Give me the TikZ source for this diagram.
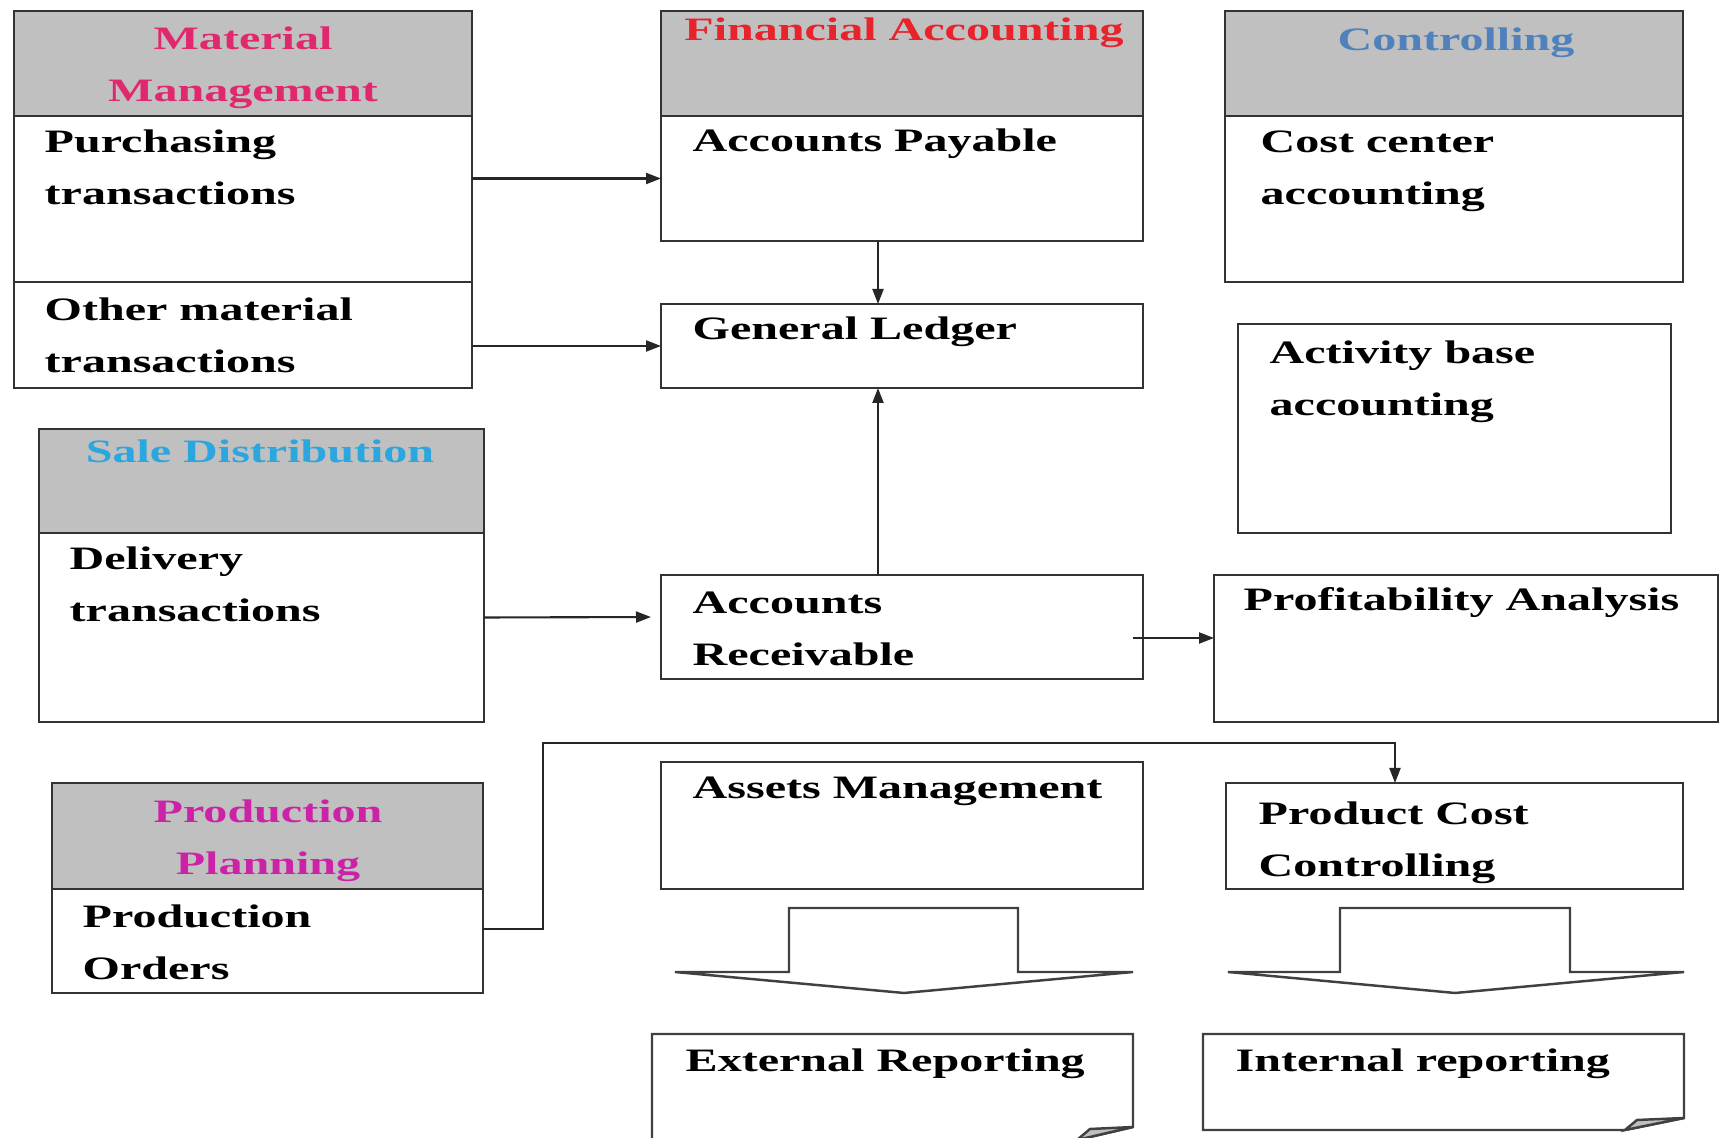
\documentclass[tikz,border=0pt]{standalone}
\usepackage{fontspec}
\setmainfont{Liberation Serif}[FakeStretch=1.47]
\usetikzlibrary{arrows.meta, positioning}

\definecolor{headgray}{HTML}{C0C0C0}
\definecolor{boxline}{HTML}{333333}
\definecolor{mmred}{HTML}{E0286E}
\definecolor{fared}{HTML}{E8232B}
\definecolor{coblue}{HTML}{4F81BD}
\definecolor{sdblue}{HTML}{2BA6DE}
\definecolor{ppmag}{HTML}{CC22A8}

\begin{document}
\begin{tikzpicture}[
    box/.style={draw=boxline, line width=0.8pt, anchor=north west, inner sep=0pt, outer sep=0pt},
    headbox/.style={box, fill=headgray},
    boxtext/.style={anchor=base west, align=left, inner sep=0pt, font=\fontsize{9.3}{15}\selectfont\bfseries},
    headtext/.style={anchor=base, align=center, inner sep=0pt, font=\fontsize{9.3}{15}\selectfont\bfseries},
    flow/.style={draw=black!85, line width=0.6pt, -{Triangle[length=0.15cm, width=0.11cm]}},
    bigarrow/.style={draw=black!75, line width=0.7pt, fill=white}
]
    \useasboundingbox[fill=white] (0,0) rectangle (17.28,-11.38);

    % Material Management
    \node[headbox, minimum width=4.58cm, minimum height=1.05cm] (mmh) at (0.14,-0.11) {};
    \node[box, minimum width=4.58cm, minimum height=1.66cm] (mmp) at (mmh.south west) {};
    \node[box, minimum width=4.58cm, minimum height=1.06cm] (mmo) at (mmp.south west) {};
    \node[headtext, text=mmred] (mmhT) at (2.43,-1.02) {Material\\Management};
    \node[boxtext] (mmpT) at (0.44,-2.05) {Purchasing\\transactions};
    \node[boxtext] (mmoT) at (0.44,-3.73) {Other material\\transactions};

    % Financial Accounting
    \node[headbox, minimum width=4.82cm, minimum height=1.05cm] (fah) at (6.61,-0.11) {};
    \node[box, minimum width=4.82cm, minimum height=1.25cm] (fap) at (fah.south west) {};
    \node[headtext, text=fared] (fahT) at (9.04,-0.41) {Financial Accounting};
    \node[boxtext] (fapT) at (6.92,-1.52) {Accounts Payable};

    % Controlling
    \node[headbox, minimum width=4.58cm, minimum height=1.05cm] (coh) at (12.25,-0.11) {};
    \node[box, minimum width=4.58cm, minimum height=1.66cm] (coc) at (coh.south west) {};
    \node[headtext, text=coblue] (cohT) at (14.56,-0.51) {Controlling};
    \node[boxtext] (cocT) at (12.60,-2.05) {Cost center\\accounting};

    % General Ledger and Activity base
    \node[box, minimum width=4.82cm, minimum height=0.84cm] (gl) at (6.61,-3.04) {};
    \node[boxtext] (glT) at (6.92,-3.40) {General Ledger};
    \node[box, minimum width=4.33cm, minimum height=2.09cm] (ab) at (12.38,-3.24) {};
    \node[boxtext] (abT) at (12.69,-4.16) {Activity base\\accounting};

    % Sale Distribution
    \node[headbox, minimum width=4.45cm, minimum height=1.04cm] (sdh) at (0.39,-4.29) {};
    \node[box, minimum width=4.45cm, minimum height=1.89cm] (sdd) at (sdh.south west) {};
    \node[headtext, text=sdblue] (sdhT) at (2.60,-4.63) {Sale Distribution};
    \node[boxtext] (sddT) at (0.69,-6.22) {Delivery\\transactions};

    % Accounts Receivable and Profitability
    \node[box, minimum width=4.82cm, minimum height=1.04cm] (ar) at (6.61,-5.75) {};
    \node[boxtext] (arT) at (6.92,-6.66) {Accounts\\Receivable};
    \node[box, minimum width=5.04cm, minimum height=1.47cm] (pa) at (12.14,-5.75) {};
    \node[boxtext] (paT) at (12.43,-6.11) {Profitability Analysis};

    % Production Planning
    \node[headbox, minimum width=4.31cm, minimum height=1.06cm] (pph) at (0.52,-7.83) {};
    \node[box, minimum width=4.31cm, minimum height=1.04cm] (ppo) at (pph.south west) {};
    \node[headtext, text=ppmag] (pphT) at (2.68,-8.75) {Production\\Planning};
    \node[boxtext] (ppoT) at (0.82,-9.80) {Production\\Orders};

    % Assets Management and Product Cost
    \node[box, minimum width=4.82cm, minimum height=1.27cm] (am) at (6.61,-7.62) {};
    \node[boxtext] (amT) at (6.92,-7.99) {Assets Management};
    \node[box, minimum width=4.57cm, minimum height=1.06cm] (pcc) at (12.26,-7.83) {};
    \node[boxtext] (pccT) at (12.58,-8.77) {Product Cost\\Controlling};

    % Block arrows
    \draw[bigarrow] (7.89,-9.08) -- (10.18,-9.08) -- (10.18,-9.72) -- (11.33,-9.72)
        -- (9.04,-9.93) -- (6.75,-9.72) -- (7.89,-9.72) -- cycle;
    \draw[bigarrow] (13.40,-9.08) -- (15.70,-9.08) -- (15.70,-9.72) -- (16.84,-9.72)
        -- (14.55,-9.93) -- (12.28,-9.72) -- (13.40,-9.72) -- cycle;

    % Reporting documents
    \draw[bigarrow] (6.52,-10.34) -- (11.33,-10.34) -- (11.33,-11.27) -- (10.77,-11.40)
        -- (6.52,-11.40) -- cycle;
    \draw[bigarrow, fill=black!25] (11.33,-11.27) -- (10.90,-11.29) -- (10.77,-11.40) -- cycle;
    \node[boxtext] (erT) at (6.85,-10.72) {External Reporting};
    \draw[bigarrow] (12.03,-10.34) -- (16.84,-10.34) -- (16.84,-11.18) -- (16.25,-11.30)
        -- (12.03,-11.30) -- cycle;
    \draw[bigarrow, fill=black!25] (16.84,-11.18) -- (16.37,-11.20) -- (16.25,-11.30) -- cycle;
    \node[boxtext] (irT) at (12.35,-10.72) {Internal reporting};

    % Connectors
    \draw[flow] (mmp.east |- fap.west) -- (fap.west);
    \draw[flow] (mmo.east |- gl.west) -- (gl.west);
    \draw[flow] ([xshift=-0.24cm]fap.south) -- ([xshift=-0.24cm]gl.north);
    \draw[flow] ([xshift=-0.24cm]ar.north) -- ([xshift=-0.24cm]gl.south);
    \draw[flow, shorten >=0.1cm] ([yshift=0.1cm]sdd.east) -- ([yshift=0.1cm]ar.west);
    \draw[flow] ([xshift=-0.1cm, yshift=-0.11cm]ar.east) coordinate (arout) -- (arout -| pa.west);
    \coordinate (riser) at (5.43,-7.43);
    \draw[flow] ([yshift=0.12cm]ppo.east) -| (riser) -| ([xshift=-0.595cm]pcc.north);
\end{tikzpicture}
\end{document}
